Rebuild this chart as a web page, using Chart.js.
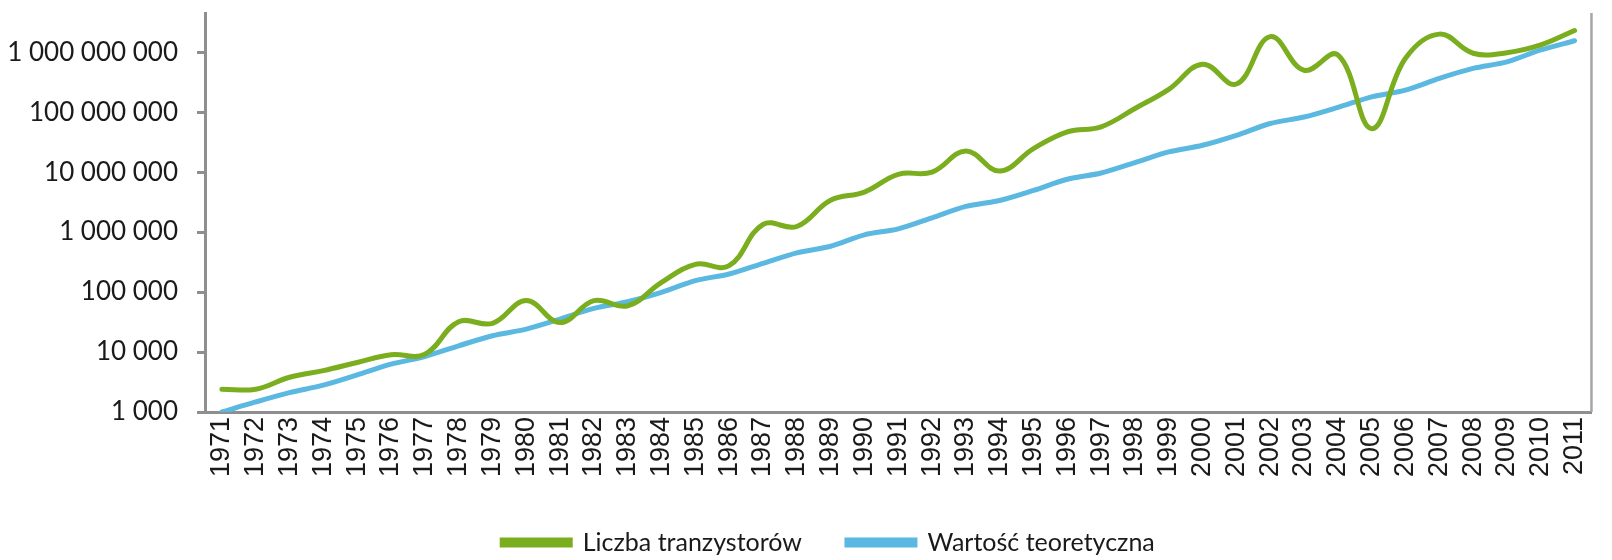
<!DOCTYPE html>
<html lang="pl">
<head>
<meta charset="utf-8">
<title>Liczba tranzystorów</title>
<script src="https://cdn.jsdelivr.net/npm/chart.js@4.4.1/dist/chart.umd.min.js"></script>
<style>
    html, body { margin: 0; padding: 0; background: #fff; }
    #wrap { width: 1612px; height: 560px; }
</style>
</head>
<body>
<div id="wrap"><canvas id="chart" width="1612" height="560"></canvas></div>
<script>
// ---- Data ----
const years = [
    '1971', '1972', '1973', '1974', '1975', '1976', '1977', '1978', '1979', '1980',
    '1981', '1982', '1983', '1984', '1985', '1986', '1987', '1988', '1989', '1990',
    '1991', '1992', '1993', '1994', '1995', '1996', '1997', '1998', '1999', '2000',
    '2001', '2002', '2003', '2004', '2005', '2006', '2007', '2008', '2009', '2010', '2011',
];

// Liczba tranzystorów (odczyt z wykresu)
const transistors = [
    2400, 2400, 3800, 4900, 6700, 9000, 9200, 32000, 30000, 72000,
    31000, 72000, 59000, 145000, 290000, 275000, 1340000, 1240000, 3400000, 4650000,
    9200000, 10000000, 22500000, 10400000, 24700000, 47000000, 57000000, 115000000, 240000000, 630000000,
    294000000, 1820000000, 500000000, 900000000, 53000000, 790000000, 2000000000, 960000000, 980000000, 1320000000,
    2300000000,
];

// Wartość teoretyczna
const theoretical = [
    1000, 1470, 2100, 2800, 4150, 6270, 8400, 12700, 18700, 24100,
    35500, 53300, 69000, 98900, 155000, 200000, 301000, 451000, 581000, 900000,
    1130000, 1730000, 2680000, 3370000, 4960000, 7600000, 9670000, 14400000, 21700000, 28000000,
    41000000, 64600000, 83000000, 120000000, 180000000, 233000000, 366000000, 537000000, 690000000, 1090000000,
    1550000000,
];

const yTicks = [1e3, 1e4, 1e5, 1e6, 1e7, 1e8, 1e9];

// ---- Style ----
const GREEN = '#7aae1f';
const BLUE = '#5bb8e1';
const AXIS = '#8f8f8f';
const UI_FONT = 'Lato, "Open Sans", sans-serif';

const spaced = (v) => String(Math.round(v)).replace(/\B(?=(\d{3})+(?!\d))/g, ' ');

// right frame line of the plot area
const rightFrame = {
    id: 'rightFrame',
    afterDraw(chart) {
        const { ctx, chartArea } = chart;
        ctx.save();
        ctx.strokeStyle = '#a6a6a6';
        ctx.lineWidth = 2.5;
        ctx.beginPath();
        ctx.moveTo(chartArea.right, chartArea.top);
        ctx.lineTo(chartArea.right, chartArea.bottom);
        ctx.stroke();
        ctx.restore();
    },
};

// the legend in the original sits a bit right of the page centre
const legendShift = {
    id: 'legendShift',
    afterLayout(chart) {
        if (!chart.legend) return;
        chart.legend.left += 24;
        chart.legend.right += 24;
    },
};

new Chart(document.getElementById('chart'), {
    type: 'line',
    data: {
        labels: years,
        datasets: [
            {
                label: 'Liczba tranzystorów',
                data: transistors,
                borderColor: GREEN,
                backgroundColor: GREEN,
                borderWidth: 5,
                tension: 0.4,
                pointRadius: 0,
                borderCapStyle: 'round',
            },
            {
                label: 'Wartość teoretyczna',
                data: theoretical,
                borderColor: BLUE,
                backgroundColor: BLUE,
                borderWidth: 5,
                tension: 0.3,
                pointRadius: 0,
                borderCapStyle: 'round',
            },
        ],
    },
    options: {
        responsive: false,
        animation: false,
        layout: { padding: { top: 13, right: 3, left: 0, bottom: -5 } },
        plugins: {
            tooltip: { enabled: false },
            legend: {
                position: 'bottom',
                labels: {
                    boxWidth: 68,
                    boxHeight: 5,
                    padding: 45,
                    color: '#1a1a1a',
                    font: { family: UI_FONT, size: 25, lineHeight: 1.0 },
                },
            },
        },
        scales: {
            x: {
                offset: true,
                grid: { display: false, drawTicks: false },
                border: { color: AXIS, width: 3 },
                ticks: {
                    minRotation: 90,
                    maxRotation: 90,
                    autoSkip: false,
                    padding: 5,
                    color: '#1a1a1a',
                    font: { family: 'Liberation Sans', size: 27 },
                },
                afterFit: (scale) => { scale.height = 73; },
            },
            y: {
                type: 'logarithmic',
                min: 1000,
                max: 4.5e9,
                grid: { drawOnChartArea: false, color: AXIS, lineWidth: 3, tickLength: 8 },
                border: { color: AXIS, width: 3 },
                ticks: {
                    padding: 19,
                    color: '#1a1a1a',
                    font: { family: UI_FONT, size: 26 },
                    callback: (v) => spaced(v),
                },
                afterBuildTicks: (scale) => { scale.ticks = yTicks.map(v => ({ value: v })); },
                afterFit: (scale) => {
                    scale.width = 205;
                    scale.paddingTop = 0;
                    scale.paddingBottom = 0;
                },
            },
        },
    },
    plugins: [rightFrame, legendShift],
});
</script>
</body>
</html>
